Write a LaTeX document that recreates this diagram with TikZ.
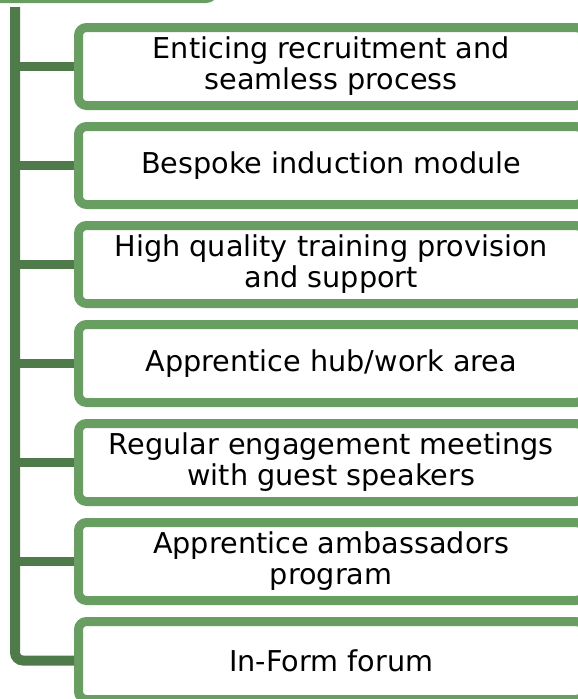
\documentclass[tikz,border=0pt]{standalone}
\usepackage{fontspec}
\setmainfont{DejaVu Sans}
\definecolor{boxgreen}{HTML}{699E62}
\definecolor{stemgreen}{HTML}{4F7A4A}

\begin{document}
\begin{tikzpicture}[
      x=1pt,
      y=-1pt,
      item/.style={draw=boxgreen, fill=white, line width=9pt, rounded corners=8pt,
        minimum width=505.5pt, minimum height=78pt, inner sep=0pt,
        align=center, font=\fontsize{28.7}{31}\selectfont},
      stem/.style={draw=stemgreen, line width=10pt, rounded corners=8pt},
      twig/.style={draw=stemgreen, line width=9pt}]
    \useasboundingbox (0,0) rectangle (578,699);
    \clip (0,0) rectangle (578,699);

    \node [item, minimum width=272pt, minimum height=100pt] (head) at (78,-51.5) {};

    \node [item] (b1) at (331.25,  66.5) {Enticing recruitment and\\seamless process};
    \node [item] (b2) at (331.25, 165.5) {Bespoke induction module};
    \node [item] (b3) at (331.25, 264.5) {High quality training provision\\and support};
    \node [item] (b4) at (331.25, 363.5) {Apprentice hub/work area};
    \node [item] (b5) at (331.25, 462.5) {Regular engagement meetings\\with guest speakers};
    \node [item] (b6) at (331.25, 561.5) {Apprentice ambassadors\\program};
    \node [item] (b7) at (331.25, 660.5) {In-Form forum};

    \coordinate (top) at (15,7);

    \draw [stem] (top) -- (top |- b7.west) -- (b7.west);

    \draw [twig] (top |- b1.west) -- (b1.west);
    \draw [twig] (top |- b2.west) -- (b2.west);
    \draw [twig] (top |- b3.west) -- (b3.west);
    \draw [twig] (top |- b4.west) -- (b4.west);
    \draw [twig] (top |- b5.west) -- (b5.west);
    \draw [twig] (top |- b6.west) -- (b6.west);

  \end{tikzpicture}
\end{document}
